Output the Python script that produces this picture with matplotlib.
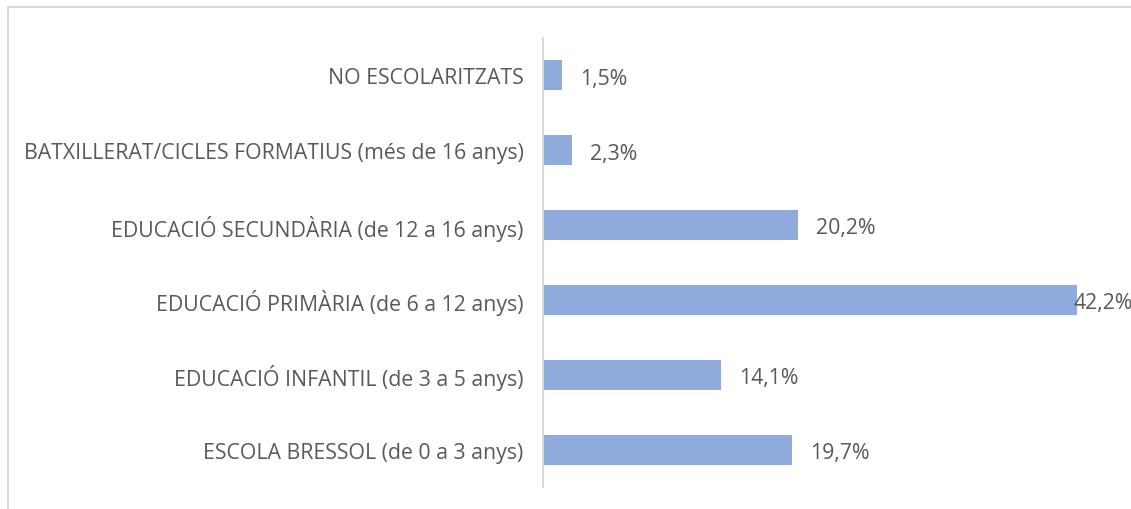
import matplotlib
matplotlib.use('Agg')
import matplotlib.pyplot as plt
from matplotlib.lines import Line2D

categories = ['ESCOLA BRESSOL (de 0 a 3 anys)',
              'EDUCACIÓ INFANTIL (de 3 a 5 anys)',
              'EDUCACIÓ PRIMÀRIA (de 6 a 12 anys)',
              'EDUCACIÓ SECUNDÀRIA (de 12 a 16 anys)',
              'BATXILLERAT/CICLES FORMATIUS (més de 16 anys)',
              'NO ESCOLARITZATS']
values = [19.7, 14.1, 42.2, 20.2, 2.3, 1.5]
value_labels = ['19,7%', '14,1%', '42,2%', '20,2%', '2,3%', '1,5%']

bar_color = '#8FAADC'
text_color = '#595959'
W, H = 1131, 510
fs = 15.3

plt.rcParams['font.family'] = ['Open Sans', 'DejaVu Sans']

fig = plt.figure(figsize=(W / 100, H / 100), dpi=100)
# chart area border: only top and left edges are visible in the reference
fig.lines.append(Line2D([8 / W, 1.0], [1 - 8 / H, 1 - 8 / H], transform=fig.transFigure,
                        color='#d9d9d9', linewidth=1.5))
fig.lines.append(Line2D([8 / W, 8 / W], [0, 1 - 8 / H], transform=fig.transFigure,
                        color='#d9d9d9', linewidth=1.5))

ax = fig.add_axes([543 / W, 22 / H, (1112 - 543) / W, (487 - 38) / H])
ypos = list(range(len(categories)))
ax.barh(ypos, values, height=0.4, color=bar_color)
ax.set_xlim(0, 45)
ax.set_ylim(-0.5, len(categories) - 0.5)
ax.set_yticks(ypos)
ax.set_yticklabels(categories, fontsize=fs, color=text_color)
ax.tick_params(axis='y', length=0, pad=14)
ax.set_xticks([])
for s in ['top', 'right', 'bottom']:
    ax.spines[s].set_visible(False)
ax.spines['left'].set_color('#d9d9d9')
ax.spines['left'].set_linewidth(1.5)

for y, v, lab in zip(ypos, values, value_labels):
    if v > 40:
        ax.annotate(lab, (v, y), xytext=(-2, -2), textcoords='offset points',
                    va='center', ha='left', fontsize=fs, color=text_color,
                    annotation_clip=False)
    else:
        ax.annotate(lab, (v, y), xytext=(13, -2), textcoords='offset points',
                    va='center', ha='left', fontsize=fs, color=text_color)

fig.savefig('out.png', dpi=100)
